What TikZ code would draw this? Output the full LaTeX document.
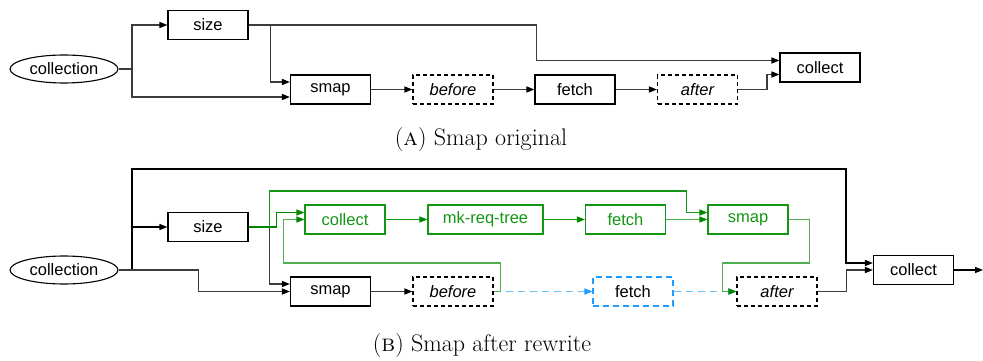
\documentclass[tikz,border=0pt]{standalone}
\usepackage{fontspec}
\setsansfont{Liberation Sans}
\usetikzlibrary{arrows.meta,shapes.geometric}

\definecolor{linegray}{RGB}{60,60,60}
\definecolor{boxgreen}{RGB}{20,150,20}
\definecolor{linegreen}{RGB}{80,175,80}
\definecolor{tipgreen}{RGB}{0,135,0}
\definecolor{fetchblue}{RGB}{30,155,255}
\definecolor{dashblue}{RGB}{110,195,255}

\tikzset{
	box/.style={draw, line width=1.1pt, minimum width=80pt, minimum height=29pt, inner sep=0pt, font=\sffamily\fontsize{16.5}{18}\selectfont},
	dbox/.style={box, dash pattern=on 4pt off 3pt},
	gbox/.style={box, draw=boxgreen, text=boxgreen},
	bbox/.style={box, draw=fetchblue, dash pattern=on 6pt off 4pt},
	oval/.style={ellipse, draw, line width=1.1pt, minimum width=108pt, minimum height=28pt, inner sep=0pt, font=\sffamily\fontsize{16.5}{18}\selectfont},
	flow/.style={draw=linegray, line width=1.2pt, -{Triangle[length=8pt,width=6pt,color=black]}},
	gflow/.style={draw=linegreen, line width=1.3pt, -{Triangle[length=8pt,width=6pt,color=tipgreen]}},
	bflow/.style={draw=dashblue, line width=1.5pt, dash pattern=on 7pt off 5pt, -{Triangle[length=8pt,width=6pt,color=fetchblue]}},
	caption/.style={font=\fontsize{24}{28}\selectfont}
}

\begin{document}
\begin{tikzpicture}[x=1pt,y=-1pt]

				\useasboundingbox (0,0) rectangle (983,361);

				% (A) original
				\node[oval] (coll1) at (64,69) {collection};
				\node[box] (size1) at (208,25) {size};
				\node[box] (smap1) at (330.5,89.5) {smap};
				\node[dbox] (before1) at (453,89.5) {\itshape before};
				\node[box] (fetch1) at (575,89.5) {fetch};
				\node[dbox] (after1) at (697.5,89.5) {\itshape after};
				\node[box] (collect1) at (820,67.5) {collect};
				\coordinate (j1) at (132,69);

				\draw[linegray, line width=1.2pt] (coll1.east) -- (j1);
				\draw[flow] (j1) |- (size1.west);
				\draw[flow] (j1) |- ([yshift=-7.5pt]smap1.west);
				\draw[flow] (size1.east) -- ++(288,0) |- ([yshift=7pt]collect1.west);
				\draw[flow] ([xshift=22pt]size1.east) |- ([yshift=7.5pt]smap1.west);
				\draw[flow] (smap1) -- (before1);
				\draw[flow] (before1) -- (fetch1);
				\draw[flow] (fetch1) -- (after1);
				\draw[flow] (after1.east) -- ++(29,0) |- ([yshift=-7pt]collect1.west);

				\node[caption] (capA) at (481,140) {(\textsc{a}) Smap original};

				% (B) after rewrite
				\node[oval] (coll2) at (64,270) {collection};
				\node[box] (size2) at (208,227) {size};
				\node[gbox] (gcollect) at (345,219.5) {collect};
				\node[gbox, minimum width=115pt] (mkreq) at (485.5,219.5) {mk-req-tree};
				\node[gbox] (gfetch) at (625.5,219.5) {fetch};
				\node[gbox] (gsmap) at (748,219.5) {smap};
				\node[box] (smap2) at (330.5,291.5) {smap};
				\node[dbox] (before2) at (453,291.5) {\itshape before};
				\node[bbox] (bfetch) at (633,291.5) {fetch};
				\node[dbox] (after2) at (777,291.5) {\itshape after};
				\node[box] (collect2) at (913.5,270) {collect};
				\coordinate (j2) at (132,270);
				\coordinate (top) at (846,169);
				\coordinate (out) at (983,270);

				\draw[black, line width=1.2pt] (coll2.east) -- (j2);
				\draw[flow, draw=black] (j2) |- (size2.west);
				\draw[flow, draw=black] (j2) |- (top) |- ([yshift=7pt]collect2.west);
				\draw[flow] (coll2.east) -- ++(80,0) |- (smap2.west);
				\draw[flow] ([xshift=21pt]size2.east) |- ([yshift=7.5pt]smap2.west);
				\draw[flow] (smap2) -- (before2);
				\draw[flow] (after2.east) -- ++(29,0) |- (collect2.west);
				\draw[flow, draw=black] (collect2) -- (out);

				\draw[bflow] (before2) -- (bfetch);
				\draw[bflow] (bfetch) -- (after2);

				\draw[gflow, draw=tipgreen] (size2.east) -- ++(28,0) |- ([yshift=7pt]gcollect.west);
				\draw[gflow, draw=boxgreen] ([xshift=21pt]size2.east) -- ++(0,-36) -| ([xshift=-21pt,yshift=7pt]gsmap.west) -- ([yshift=7pt]gsmap.west);
				\draw[gflow] (before2.east) -- ++(7,0) -- ++(0,-28.5) -| ([xshift=-21pt]gcollect.west) -- (gcollect.west);
				\draw[gflow, draw=boxgreen] (gcollect) -- (mkreq);
				\draw[gflow, draw=boxgreen] (mkreq) -- (gfetch);
				\draw[gflow] (gfetch) -- (gsmap);
				\draw[gflow] (gsmap.east) -- ++(21,0) -- ++(0,43.5) -| ([xshift=-14pt]after2.west) -- (after2.west);

				\node[caption] (capB) at (482,346) {(\textsc{b}) Smap after rewrite};

\end{tikzpicture}
\end{document}
